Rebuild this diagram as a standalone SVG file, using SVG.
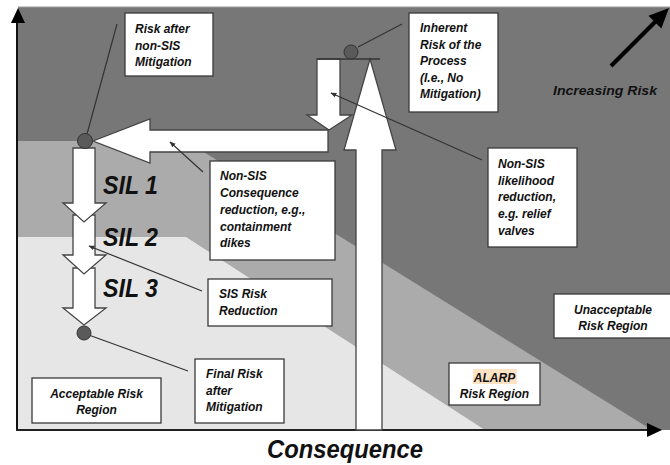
<svg xmlns="http://www.w3.org/2000/svg" width="670" height="465" viewBox="0 0 670 465">
<style>
.box{fill:#fff;stroke:#3a3a3a;stroke-width:1.3}
.t{font-family:"Liberation Sans",Arial,sans-serif;font-weight:bold;font-style:italic;font-size:12px;fill:#111}
.c{text-anchor:middle}
.sil{font-family:"Liberation Sans",Arial,sans-serif;font-weight:bold;font-style:italic;font-size:25px;fill:#111}
.ar{fill:#fff;stroke:#444;stroke-width:1.3;stroke-linejoin:miter}
.lead{stroke:#333;stroke-width:1.2;fill:none}
.dot{fill:#5a5a5a;stroke:#333;stroke-width:1}
</style>
<defs>
<marker id="sm" viewBox="0 0 10 10" refX="9" refY="5" markerWidth="6" markerHeight="6" orient="auto-start-reverse" markerUnits="userSpaceOnUse">
<path d="M0,1 L10,5 L0,9 z" fill="#333"/>
</marker>
</defs>
<rect width="670" height="465" fill="#fff"/>
<g id="regions">
<rect x="18" y="7" width="652" height="423" fill="#777"/>
<line x1="18" y1="7" x2="670" y2="7" stroke="#999" stroke-width="1"/>
<polygon points="18,141 186,141 652,430 18,430" fill="#ababab"/>
<polygon points="18,237 186,237 485,430 18,430" fill="#e6e6e6"/>
</g>
<g id="axes">
<line x1="17" y1="431" x2="17" y2="20" stroke="#111" stroke-width="2"/>
<polygon points="18,8 11,23 25,23" fill="#000"/>
<line x1="16" y1="430" x2="650" y2="430" stroke="#222" stroke-width="2"/>
<polygon points="662,430 647,423 647,437" fill="#000"/>
<text class="sil" x="345" y="458" text-anchor="middle" font-size="24" textLength="156" lengthAdjust="spacingAndGlyphs">Consequence</text>
</g>
<g id="increasing-risk">
<line x1="611" y1="66" x2="656" y2="21" stroke="#000" stroke-width="4"/>
<polygon points="669,8 661.3,28.5 648.5,15.7" fill="#000"/>
<text class="t" x="553" y="95" font-size="14" textLength="104" lengthAdjust="spacingAndGlyphs">Increasing Risk</text>
</g>
<g id="connectors">
<polygon class="ar" points="93,141 150,119 150,130 328,130 328,152 150,152 150,163"/>
<polygon class="ar" points="317,59 340,59 340,115 352,115 329,130 307,115 317,115"/>
<polygon class="ar" points="356,430 356,150 344,150 370,59 396,150 382,150 382,430"/>
<line x1="317" y1="59" x2="380" y2="59" stroke="#333" stroke-width="1.5"/>
<polygon class="ar" points="73,268 95,268 95,308 106,308 84,325 63,308 73,308"/>
<polygon class="ar" points="73,215 95,215 95,255 106,255 84,274 63,255 73,255"/>
<polygon class="ar" points="73,148 95,148 95,203 106,203 84,222 63,203 73,203"/>
<line class="lead" x1="117" y1="24" x2="87" y2="134"/>
<line class="lead" x1="402" y1="24" x2="358" y2="47"/>
<line class="lead" x1="482" y1="160" x2="331" y2="93" marker-end="url(#sm)"/>
<line class="lead" x1="203" y1="172" x2="170" y2="142" marker-end="url(#sm)"/>
<line class="lead" x1="202" y1="291" x2="89" y2="246" marker-end="url(#sm)"/>
<line class="lead" x1="188" y1="371" x2="86" y2="334"/>
</g>
<g id="points">
<circle class="dot" cx="351" cy="52" r="7"/>
<circle class="dot" cx="85" cy="141" r="7.5"/>
<circle class="dot" cx="84" cy="333" r="7"/>
</g>
<g id="sil-labels">
<text class="sil" x="103" y="194" textLength="55" lengthAdjust="spacingAndGlyphs">SIL 1</text>
<text class="sil" x="103" y="246" textLength="55" lengthAdjust="spacingAndGlyphs">SIL 2</text>
<text class="sil" x="103" y="297" textLength="55" lengthAdjust="spacingAndGlyphs">SIL 3</text>
</g>
<g id="risk-after-non-sis">
<rect class="box" x="125" y="13" width="88" height="63"/>
<text class="t" x="135" y="33">Risk after</text>
<text class="t" x="135" y="50">non-SIS</text>
<text class="t" x="135" y="66">Mitigation</text>
</g>
<g id="inherent-risk">
<rect class="box" x="409" y="13" width="89" height="99"/>
<text class="t" x="420" y="32">Inherent</text>
<text class="t" x="420" y="48.5">Risk of the</text>
<text class="t" x="420" y="65">Process</text>
<text class="t" x="420" y="81.5">(I.e., No</text>
<text class="t" x="420" y="98">Mitigation)</text>
</g>
<g id="likelihood-reduction">
<rect class="box" x="488" y="148" width="89" height="99"/>
<text class="t" x="498" y="168">Non-SIS</text>
<text class="t" x="498" y="185">likelihood</text>
<text class="t" x="498" y="201">reduction,</text>
<text class="t" x="498" y="218">e.g. relief</text>
<text class="t" x="498" y="235">valves</text>
</g>
<g id="consequence-reduction">
<rect class="box" x="210" y="161" width="125" height="99"/>
<text class="t" x="220" y="180">Non-SIS</text>
<text class="t" x="220" y="197">Consequence</text>
<text class="t" x="220" y="214">reduction, e.g.,</text>
<text class="t" x="220" y="231">containment</text>
<text class="t" x="220" y="247">dikes</text>
</g>
<g id="sis-risk-reduction">
<rect class="box" x="208" y="279" width="124" height="47"/>
<text class="t" x="219" y="298">SIS Risk</text>
<text class="t" x="219" y="315">Reduction</text>
</g>
<g id="final-risk">
<rect class="box" x="195" y="359" width="89" height="64"/>
<text class="t" x="206" y="378">Final Risk</text>
<text class="t" x="206" y="395">after</text>
<text class="t" x="206" y="411">Mitigation</text>
</g>
<g id="acceptable-region">
<rect class="box" x="32" y="378" width="129" height="45"/>
<text class="t c" x="96.5" y="398">Acceptable Risk</text>
<text class="t c" x="96.5" y="414">Region</text>
</g>
<g id="alarp-region">
<rect class="box" x="449" y="363" width="91" height="42"/>
<rect x="473" y="369" width="44" height="15" fill="#fde3c4"/>
<text class="t c" x="494.5" y="382">ALARP</text>
<text class="t c" x="494.5" y="398">Risk Region</text>
</g>
<g id="unacceptable-region">
<rect class="box" x="554" y="294" width="120" height="44"/>
<text class="t c" x="613" y="314">Unacceptable</text>
<text class="t c" x="613" y="330">Risk Region</text>
</g>
</svg>
